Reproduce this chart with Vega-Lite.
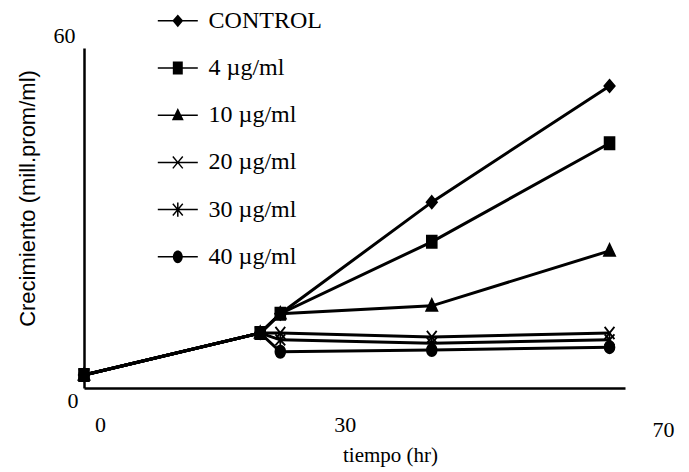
{
  "$schema": "https://vega.github.io/schema/vega-lite/v6.json",
  "width": 541,
  "height": 340,
  "autosize": "none",
  "padding": {"left": 84, "top": 48, "right": 64, "bottom": 84},
  "background": "white",
  "config": {
    "view": {"stroke": null},
    "legend": {
      "orient": "none",
      "legendX": 69.3,
      "legendY": -51.7,
      "padding": 0,
      "symbolSize": 2247,
      "rowPadding": 10.2,
      "labelOffset": 6.3,
      "labelFont": "Liberation Serif",
      "labelFontSize": 24,
      "labelColor": "black",
      "labelLimit": 300,
      "symbolStrokeColor": "black",
      "symbolFillColor": "black",
      "symbolStrokeWidth": 1.5,
      "symbolOpacity": 1
    }
  },
  "data": {
    "values": [
      {"serie": "CONTROL", "t": 0, "v": 2.3},
      {"serie": "CONTROL", "t": 22.8, "v": 9.7},
      {"serie": "CONTROL", "t": 25.4, "v": 13.1},
      {"serie": "CONTROL", "t": 45.0, "v": 32.8},
      {"serie": "CONTROL", "t": 68.0, "v": 53.3},
      {"serie": "4", "t": 0, "v": 2.3},
      {"serie": "4", "t": 22.8, "v": 9.7},
      {"serie": "4", "t": 25.4, "v": 13.1},
      {"serie": "4", "t": 45.0, "v": 25.8},
      {"serie": "4", "t": 68.0, "v": 43.2},
      {"serie": "10", "t": 0, "v": 2.3},
      {"serie": "10", "t": 22.8, "v": 9.7},
      {"serie": "10", "t": 25.4, "v": 13.1},
      {"serie": "10", "t": 45.0, "v": 14.5},
      {"serie": "10", "t": 68.0, "v": 24.2},
      {"serie": "20", "t": 0, "v": 2.3},
      {"serie": "20", "t": 22.8, "v": 9.7},
      {"serie": "20", "t": 25.4, "v": 9.7},
      {"serie": "20", "t": 45.0, "v": 9.0},
      {"serie": "20", "t": 68.0, "v": 9.7},
      {"serie": "30", "t": 0, "v": 2.3},
      {"serie": "30", "t": 22.8, "v": 9.7},
      {"serie": "30", "t": 25.4, "v": 8.5},
      {"serie": "30", "t": 45.0, "v": 7.9},
      {"serie": "30", "t": 68.0, "v": 8.5},
      {"serie": "40", "t": 0, "v": 2.3},
      {"serie": "40", "t": 22.8, "v": 9.7},
      {"serie": "40", "t": 25.4, "v": 6.4},
      {"serie": "40", "t": 45.0, "v": 6.7},
      {"serie": "40", "t": 68.0, "v": 7.2}
    ]
  },
  "encoding": {
    "x": {
      "field": "t",
      "type": "quantitative",
      "scale": {"domain": [0, 70], "nice": false, "zero": false},
      "axis": {
        "values": [0, 30, 70],
        "ticks": false,
        "grid": false,
        "domainColor": "black",
        "domainWidth": 2.5,
        "labelFont": "Liberation Serif",
        "labelFontSize": 22,
        "labelColor": "black",
        "labelOverlap": false,
        "labelFlush": false,
        "labelOffset": {"condition": [{"test": "datum.value == 0", "value": 16}, {"test": "datum.value == 30", "value": 29}], "value": 38},
        "labelPadding": {"condition": {"test": "datum.value == 70", "value": 31}, "value": 26},
        "title": "tiempo (hr)",
        "titleFont": "Liberation Serif",
        "titleFontSize": 21,
        "titleFontWeight": "normal",
        "titleColor": "black",
        "titleX": 306,
        "titleY": 67,
        "titleBaseline": "middle",
        "titleAlign": "center"
      }
    },
    "y": {
      "field": "v",
      "type": "quantitative",
      "scale": {"domain": [0, 60], "nice": false},
      "axis": {
        "values": [0, 60],
        "ticks": false,
        "grid": false,
        "domainColor": "black",
        "domainWidth": 2.5,
        "labelFont": "Liberation Serif",
        "labelFontSize": 22,
        "labelColor": "black",
        "labelOverlap": false,
        "labelFlush": false,
        "labelOffset": {"condition": {"test": "datum.value == 0", "value": 12}, "value": -13},
        "labelPadding": {"condition": {"test": "datum.value == 0", "value": 6}, "value": 9},
        "title": "Crecimiento (mill.prom/ml)",
        "titleFont": "Liberation Sans",
        "titleFontSize": 22,
        "titleFontWeight": "normal",
        "titleColor": "black",
        "titleX": -57,
        "titleY": 150,
        "titleBaseline": "middle",
        "titleAlign": "center",
        "titleAngle": -90
      }
    }
  },
  "layer": [
    {
      "mark": {"type": "line", "color": "black", "strokeWidth": 3},
      "encoding": {"detail": {"field": "serie"}}
    },
    {
      "mark": {"type": "point", "filled": true, "color": "black", "stroke": "black", "strokeWidth": 1.8, "opacity": 1, "size": 150},
      "encoding": {
        "shape": {
          "field": "serie",
          "type": "nominal",
          "legend": null,
          "scale": {
            "domain": ["CONTROL", "4", "10", "20", "30", "40"],
            "range": [
              "M0,-1L0.85,0L0,1L-0.85,0Z",
              "M-0.8,-1H0.8V1H-0.8Z",
              "M0,-1.1L0.9,0.8H-0.9Z",
              "M-0.8,-1L0.8,1M-0.8,1L0.8,-1",
              "M-0.8,-0.9L0.8,0.9M-0.8,0.9L0.8,-0.9M0,-1.1V1.1",
              "M0,-1A0.8,1 0 1,1 0,1A0.8,1 0 1,1 0,-1Z"
            ]
          }
        }
      }
    },
    {
      "transform": [{"filter": "datum.t < 0"}],
      "mark": {"type": "point", "filled": true, "color": "black", "stroke": "black", "strokeWidth": 1.5, "opacity": 1, "size": 2247},
      "encoding": {
        "shape": {
          "field": "serie",
          "type": "nominal",
          "scale": {
            "domain": ["CONTROL", "4", "10", "20", "30", "40"],
            "range": [
              "M-0.844,-0.032H0.844V0.032H-0.844ZM0,-0.27L0.23,0L0,0.27L-0.23,0Z",
              "M-0.844,-0.032H0.844V0.032H-0.844ZM-0.21,-0.27H0.21V0.27H-0.21Z",
              "M-0.844,-0.032H0.844V0.032H-0.844ZM0,-0.3L0.25,0.21H-0.25Z",
              "M-0.844,-0.032H0.844V0.032H-0.844ZM-0.187,-0.269L0.233,0.231L0.187,0.269L-0.233,-0.231ZM-0.233,0.231L0.187,-0.269L0.233,-0.231L-0.187,0.269Z",
              "M-0.844,-0.032H0.844V0.032H-0.844ZM-0.187,-0.269L0.233,0.231L0.187,0.269L-0.233,-0.231ZM-0.233,0.231L0.187,-0.269L0.233,-0.231L-0.187,0.269ZM-0.032,-0.3H0.032V0.3H-0.032Z",
              "M-0.844,-0.032H0.844V0.032H-0.844ZM0,-0.27A0.21,0.27 0 1,1 0,0.27A0.21,0.27 0 1,1 0,-0.27Z"
            ]
          },
          "legend": {
            "title": null,
            "labelExpr": "datum.value == 'CONTROL' ? 'CONTROL' : '\u00a0' + datum.value + ' \u00b5g/ml'"
          }
        }
      }
    }
  ],
  "resolve": {"scale": {"shape": "independent"}}
}
